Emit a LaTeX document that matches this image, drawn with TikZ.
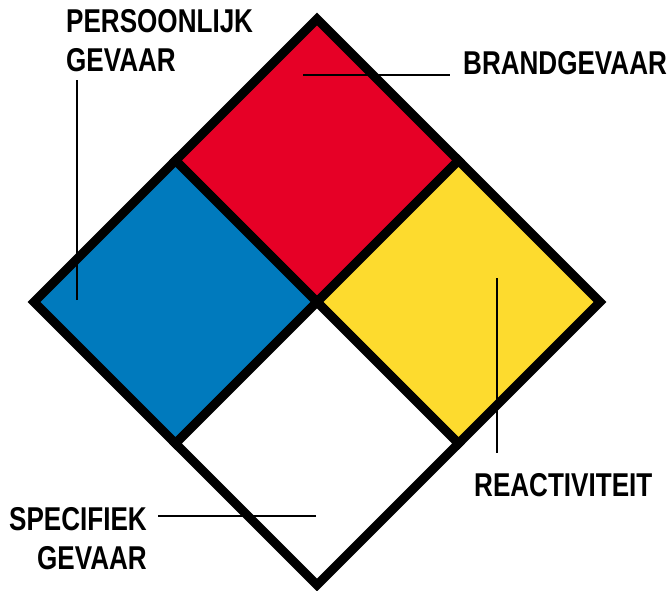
\documentclass[tikz,border=0pt]{standalone}
\usepackage{fontspec}
\setmainfont{Liberation Sans}[FakeStretch=0.79]

\definecolor{firered}{RGB}{230,0,38}
\definecolor{healthblue}{RGB}{0,122,189}
\definecolor{reactyellow}{RGB}{253,219,46}

\begin{document}
\begin{tikzpicture}[x=1pt, y=-1pt,
        square/.style={draw=black, line width=9pt, line join=miter},
        leader/.style={draw=black, line width=1.2pt},
        label/.style={inner sep=0pt, font=\bfseries\fontsize{33}{39}\selectfont}]
            \useasboundingbox (0,0) rectangle (672,591);

            % corners of the diamond
            \coordinate (T) at (317,19);
            \coordinate (L) at (34,302);
            \coordinate (R) at (600,302);
            \coordinate (B) at (317,585);
            \coordinate (C) at (317,302);
            \coordinate (TL) at (175.5,160.5);
            \coordinate (TR) at (458.5,160.5);
            \coordinate (BL) at (175.5,443.5);
            \coordinate (BR) at (458.5,443.5);

            \filldraw[square, fill=firered] (T) -- (TR) -- (C) -- (TL) -- cycle;
            \filldraw[square, fill=healthblue] (TL) -- (C) -- (BL) -- (L) -- cycle;
            \filldraw[square, fill=reactyellow] (TR) -- (R) -- (BR) -- (C) -- cycle;
            \filldraw[square, fill=white] (C) -- (BR) -- (B) -- (BL) -- cycle;

            % labels
            \node[label, anchor=north west, align=left] (health) at (66,9) {PERSOONLIJK\\GEVAAR};
            \node[label, anchor=base west] (fire) at (463,75) {BRANDGEVAAR};
            \node[label, anchor=north west] (react) at (474,473) {REACTIVITEIT};
            \node[label, anchor=north east, align=right] (special) at (147,507) {SPECIFIEK\\GEVAAR};

            \coordinate (hp) at (77,300);
            \coordinate (fp) at (303,75);
            \coordinate (rp) at (497,278);
            \coordinate (sp) at (316,516);

            \draw[leader, shorten >=8pt] (hp) -- (hp |- health.south);
            \draw[leader, shorten >=13pt] (fp) -- (fire.base west);
            \draw[leader, shorten >=20pt] (rp) -- (rp |- react.north);
            \draw[leader, shorten >=11pt] (sp) -- (sp -| special.east);
        \end{tikzpicture}
\end{document}
